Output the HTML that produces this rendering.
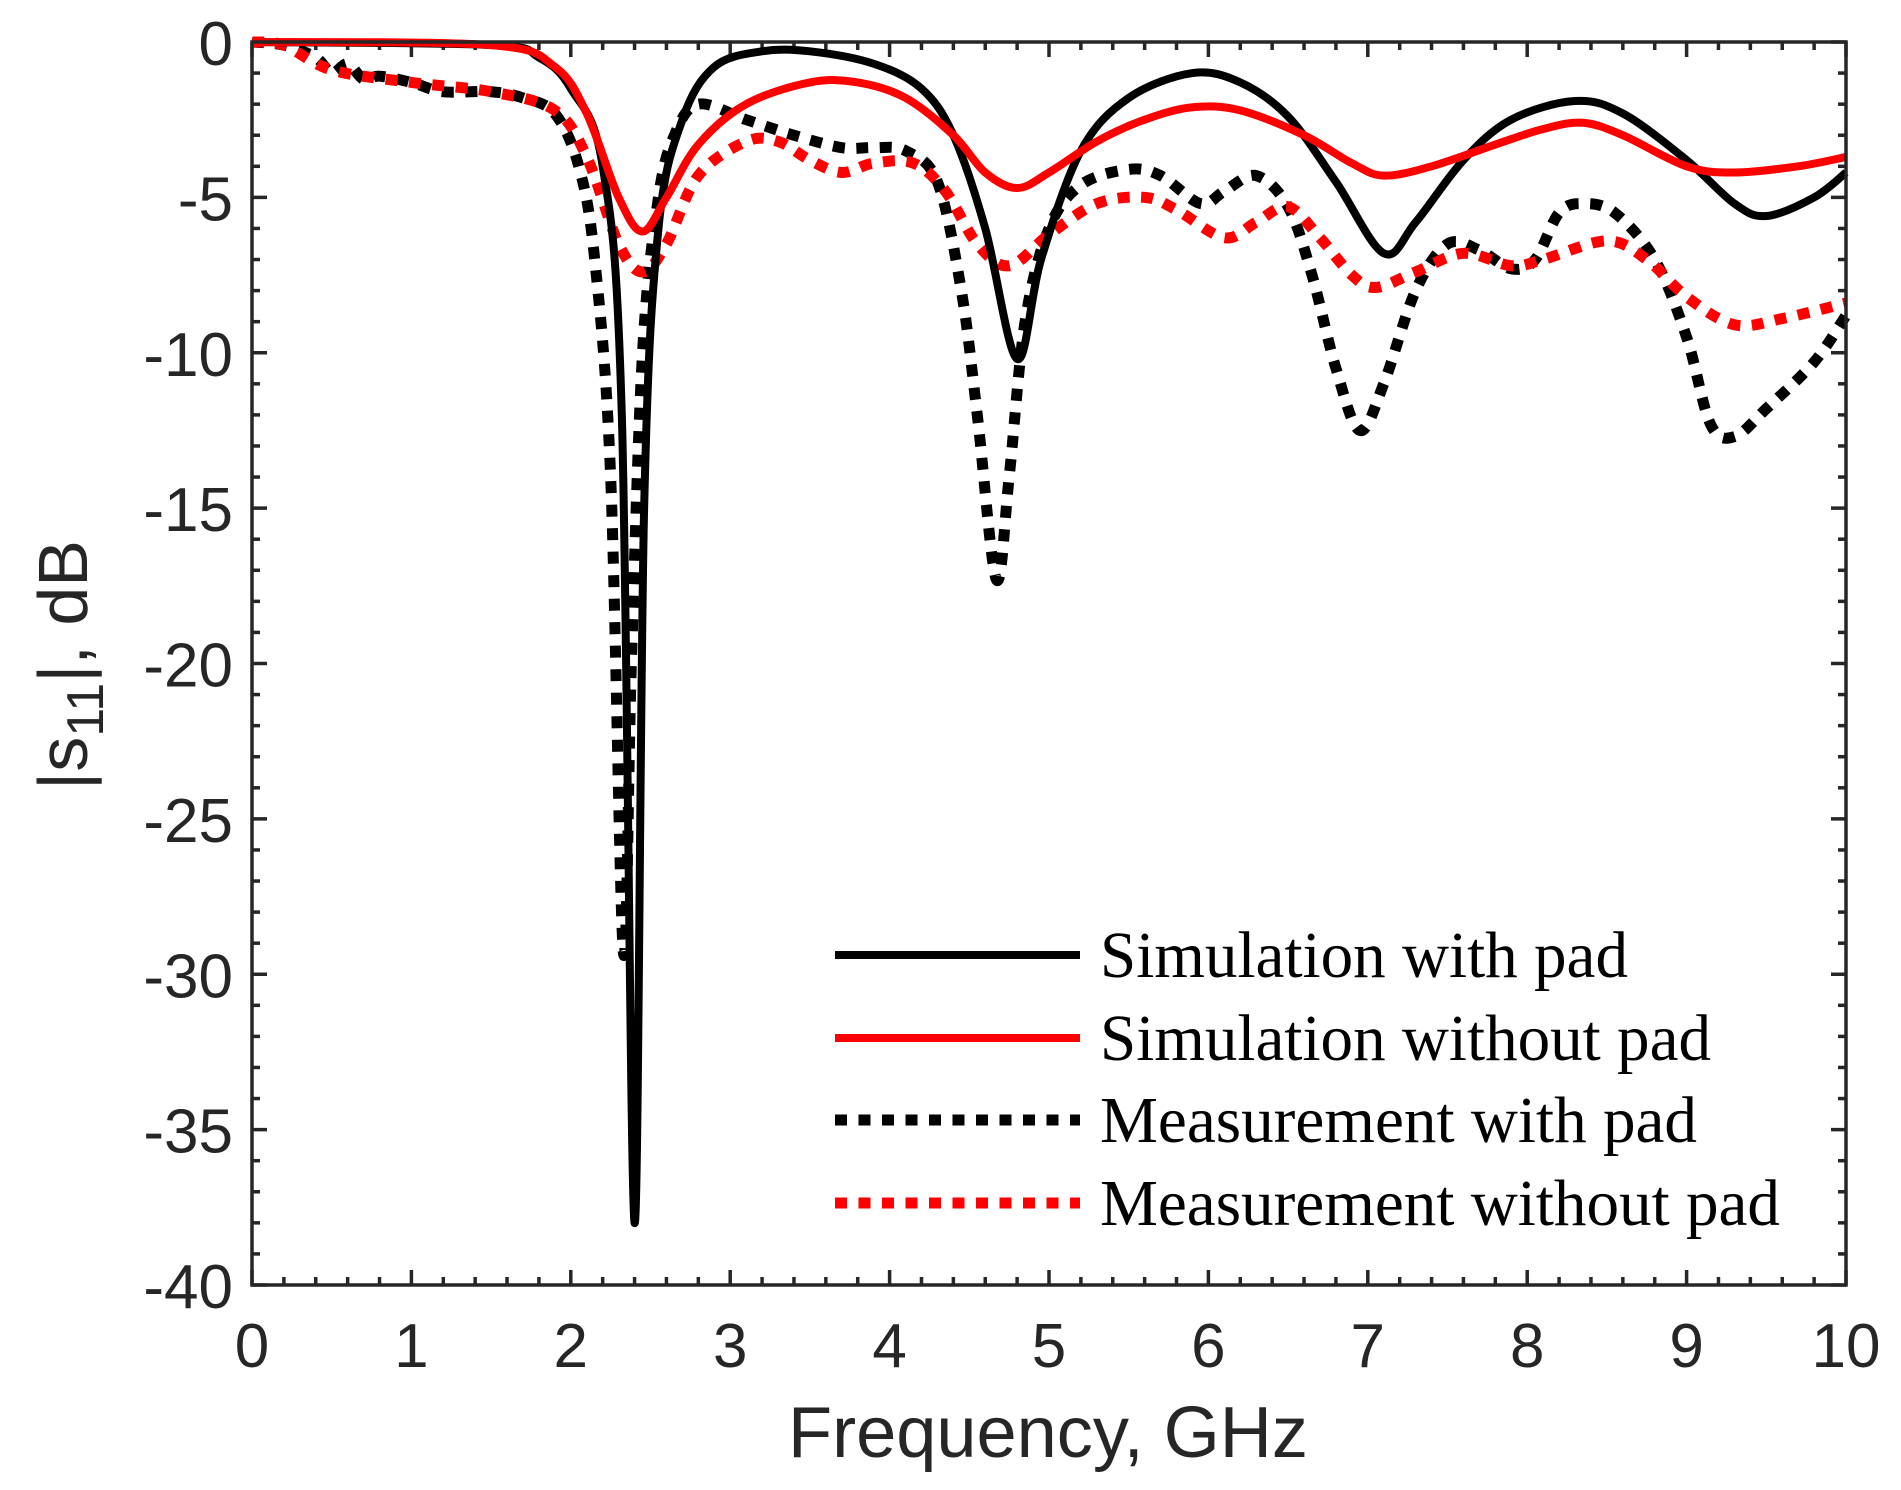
<!DOCTYPE html>
<html><head><meta charset="utf-8"><style>
html,body{margin:0;padding:0;background:#fff;}
svg{display:block;}
</style></head><body>
<svg id="s" width="1901" height="1490" viewBox="0 0 1901 1490" xmlns="http://www.w3.org/2000/svg">
<rect x="0" y="0" width="1901" height="1490" fill="#fff"/>
<g id="ticks" stroke="#262626" stroke-width="3.5"></g>
<g id="curves" fill="none" stroke-linejoin="round"></g>
<rect x="252" y="42" width="1594" height="1243" fill="none" stroke="#262626" stroke-width="3.5"/>
<g font-family="Liberation Sans, Arial, sans-serif" font-size="62" fill="#262626" text-anchor="middle">
<text x="252" y="1367">0</text><text x="411.4" y="1367">1</text><text x="570.8" y="1367">2</text><text x="730.2" y="1367">3</text><text x="889.6" y="1367">4</text><text x="1049" y="1367">5</text><text x="1208.4" y="1367">6</text><text x="1367.8" y="1367">7</text><text x="1527.2" y="1367">8</text><text x="1686.6" y="1367">9</text><text x="1846" y="1367">10</text>
</g>
<g id="ylab" font-family="Liberation Sans, Arial, sans-serif" font-size="62" fill="#262626" text-anchor="end"></g>
<text x="1048" y="1457" font-family="Liberation Sans, Arial, sans-serif" font-size="72" fill="#262626" text-anchor="middle" textLength="520" lengthAdjust="spacingAndGlyphs">Frequency, GHz</text>
<text transform="translate(87,665) rotate(-90)" font-family="Liberation Sans, Arial, sans-serif" font-size="70" fill="#262626" text-anchor="middle">|s<tspan font-size="52" dy="16">11</tspan><tspan dy="-16">|, dB</tspan></text>
<g fill="none">
<line x1="835" y1="955" x2="1080" y2="955" stroke="#000" stroke-width="8"/>
<line x1="835" y1="1038" x2="1080" y2="1038" stroke="#f00" stroke-width="8"/>
<line x1="835" y1="1120" x2="1080" y2="1120" stroke="#000" stroke-width="11" stroke-dasharray="12 11.5"/>
<line x1="835" y1="1203" x2="1080" y2="1203" stroke="#f00" stroke-width="11" stroke-dasharray="12 11.5"/>
</g>
<g font-family="Liberation Serif, Times New Roman, serif" font-size="66" fill="#000">
<text x="1100" y="977" textLength="528" lengthAdjust="spacingAndGlyphs">Simulation with pad</text>
<text x="1100" y="1060" textLength="611" lengthAdjust="spacingAndGlyphs">Simulation without pad</text>
<text x="1100" y="1142" textLength="597" lengthAdjust="spacingAndGlyphs">Measurement with pad</text>
<text x="1100" y="1225" textLength="680" lengthAdjust="spacingAndGlyphs">Measurement without pad</text>
</g>
</svg>
<script>
(function(){
function X(f){return 252+159.4*f;} function Y(d){return 42-d*31.075;}
var t=document.getElementById('ticks'),h='';
for(var i=0;i<=50;i++){var x=X(i/5),L=(i%5==0)?15:8;h+='<line x1="'+x+'" y1="1285" x2="'+x+'" y2="'+(1285-L)+'"/><line x1="'+x+'" y1="42" x2="'+x+'" y2="'+(42+L)+'"/>';}
for(var j=0;j<=40;j++){var y=Y(-j),L=(j%5==0)?15:8;h+='<line x1="252" y1="'+y+'" x2="'+(252+L)+'" y2="'+y+'"/><line x1="1846" y1="'+y+'" x2="'+(1846-L)+'" y2="'+y+'"/>';}
t.innerHTML=h;
var yl='';for(var k=0;k<=8;k++){yl+='<text x="233" y="'+(Y(-5*k)+23)+'">'+(k==0?'0':'-'+(5*k))+'</text>';}
document.getElementById('ylab').innerHTML=yl;
function path(p){var pts=[];for(var i=0;i<p.length;i+=2)pts.push([X(p[i]),Y(p[i+1])]);
var d='M'+pts[0][0]+','+pts[0][1];
for(var i=0;i<pts.length-1;i++){var p0=pts[Math.max(0,i-1)],p1=pts[i],p2=pts[i+1],p3=pts[Math.min(pts.length-1,i+2)];
var c1=[p1[0]+(p2[0]-p0[0])/6,p1[1]+(p2[1]-p0[1])/6],c2=[p2[0]-(p3[0]-p1[0])/6,p2[1]-(p3[1]-p1[1])/6];
d+=' C'+c1[0]+','+c1[1]+' '+c2[0]+','+c2[1]+' '+p2[0]+','+p2[1];}return d;}
var S=[
{c:'#000',w:8,d:null,p:[0,0,1.5,-0.1,1.8,-0.5,2.0,-1.5,2.2,-4,2.32,-12,2.4,-38,2.46,-15,2.55,-6,2.7,-2.5,2.9,-0.8,3.2,-0.3,3.5,-0.3,3.9,-0.7,4.2,-1.5,4.4,-3,4.6,-6,4.8,-10.2,4.95,-7,5.2,-3.5,5.5,-1.8,5.9,-1.0,6.2,-1.3,6.5,-2.4,6.8,-4.5,7.1,-6.8,7.3,-5.8,7.6,-3.8,7.9,-2.5,8.3,-1.9,8.6,-2.3,9.0,-3.8,9.3,-5.2,9.5,-5.6,9.8,-5,10,-4.2]},
{c:'#f00',w:8,d:null,p:[0,0,1.5,-0.1,1.9,-0.8,2.1,-2.3,2.3,-5,2.45,-6.1,2.6,-5,2.8,-3.3,3.1,-2.0,3.5,-1.3,3.8,-1.3,4.1,-1.8,4.4,-3,4.6,-4.2,4.8,-4.7,5.0,-4.2,5.3,-3.2,5.6,-2.5,5.9,-2.1,6.2,-2.2,6.6,-3,6.9,-3.9,7.1,-4.3,7.4,-4.0,7.8,-3.3,8.1,-2.8,8.35,-2.6,8.6,-3.0,9.0,-4.0,9.3,-4.2,9.7,-4.0,10,-3.7]},
{c:'#000',w:11,d:'12 11.5',p:[0,0,0.2,-0.1,0.4,-0.5,0.5,-1.0,0.6,-0.7,0.7,-1.2,0.8,-1.1,1.0,-1.3,1.2,-1.6,1.5,-1.6,1.7,-1.8,1.9,-2.3,2.05,-4,2.15,-7,2.25,-14,2.33,-29.3,2.38,-20,2.45,-10,2.55,-5,2.65,-3,2.8,-2,3.1,-2.5,3.4,-3,3.7,-3.4,3.9,-3.4,4.1,-3.5,4.3,-4.5,4.45,-8,4.55,-12,4.67,-17.3,4.75,-14,4.85,-9,5.0,-6,5.2,-4.6,5.5,-4.1,5.7,-4.3,5.95,-5.2,6.1,-4.8,6.3,-4.3,6.5,-5.3,6.65,-7.5,6.8,-10.5,6.95,-12.5,7.1,-11,7.3,-8,7.5,-6.5,7.7,-6.7,7.9,-7.3,8.05,-7,8.2,-5.5,8.35,-5.2,8.55,-5.5,8.8,-7,9.0,-9.5,9.15,-12.3,9.3,-12.7,9.5,-11.8,9.8,-10.3,10,-8.8]},
{c:'#f00',w:11,d:'12 11.5',p:[0,0,0.2,-0.1,0.5,-0.9,1.0,-1.3,1.5,-1.6,1.9,-2.2,2.1,-3.7,2.3,-6.5,2.45,-7.4,2.6,-6.5,2.8,-4.3,3.1,-3.2,3.3,-3.2,3.5,-3.8,3.7,-4.2,3.9,-3.9,4.15,-3.9,4.35,-4.8,4.55,-6.5,4.75,-7.2,5.0,-6.2,5.3,-5.2,5.6,-5.0,5.8,-5.4,6.1,-6.3,6.3,-5.8,6.5,-5.3,6.7,-6.3,6.9,-7.5,7.05,-7.9,7.3,-7.4,7.6,-6.8,7.9,-7.2,8.1,-7.0,8.5,-6.4,8.75,-7.0,9.0,-8.2,9.3,-9.1,9.6,-8.9,10,-8.4]}];
var g=document.getElementById('curves'),o='';
[2,3,0,1].forEach(function(k){var s=S[k];o+='<path d="'+path(s.p)+'" stroke="'+s.c+'" stroke-width="'+s.w+'"'+(s.d?' stroke-dasharray="'+s.d+'"':'')+'/>';});
g.innerHTML=o;
})();
</script>
</body></html>
